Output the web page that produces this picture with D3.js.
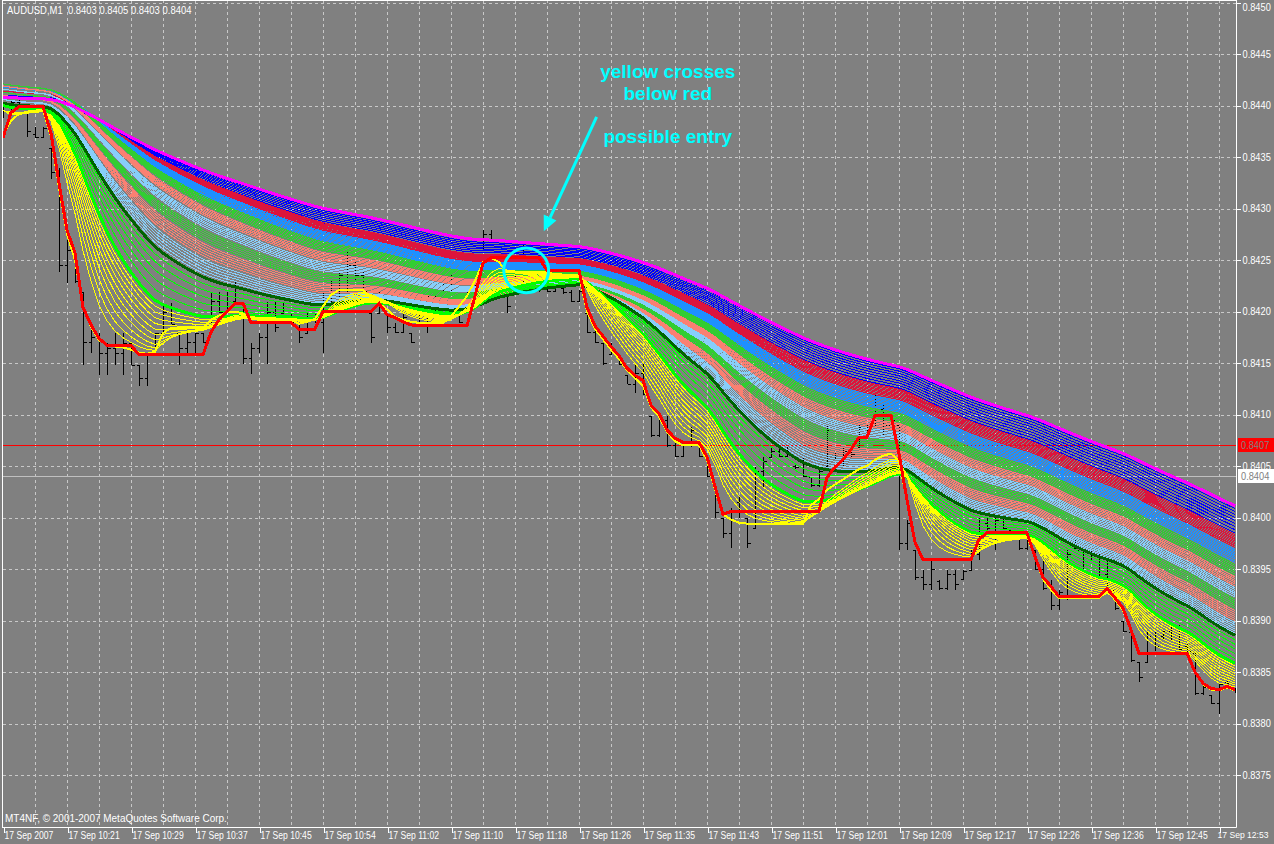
<!DOCTYPE html>
<html><head><meta charset="utf-8">
<script src="https://cdn.jsdelivr.net/npm/d3@7/dist/d3.min.js"></script>
<style>
html,body{margin:0;padding:0;background:#808080;}
svg{display:block;}
text{font-family:"Liberation Sans",Arial,sans-serif;}
</style></head><body>
<svg id="c" width="1274" height="844"></svg>
<script>
// ---------------- DATA ----------------
const symbolTitle = "AUDUSD,M1  0.8403 0.8405 0.8403 0.8404";
const copyright = "MT4NF, \u00A9 2001-2007 MetaQuotes Software Corp.";
const timeLabels = ["17 Sep 2007","17 Sep 10:21","17 Sep 10:29","17 Sep 10:37","17 Sep 10:45","17 Sep 10:54","17 Sep 11:02","17 Sep 11:10","17 Sep 11:18","17 Sep 11:26","17 Sep 11:35","17 Sep 11:43","17 Sep 11:51","17 Sep 12:01","17 Sep 12:09","17 Sep 12:17","17 Sep 12:26","17 Sep 12:36","17 Sep 12:45","17 Sep 12:53"];
const timeLabelBars = [0,8,16,24,32,40,48,56,64,72,80,88,96,104,112,120,128,136,144,152];
const priceTicks = [0.8450,0.8445,0.8440,0.8435,0.8430,0.8425,0.8420,0.8415,0.8410,0.8405,0.8400,0.8395,0.8390,0.8385,0.8380,0.8375];
const markerLevel = 0.8407;   // red horizontal line
const bidLevel = 0.8404;      // grey bid line

const openP = [
0.84390,0.84400,0.84403,0.84393,0.84372,0.84369,0.84359,0.84335,0.84245,0.84256,
0.84219,0.84170,0.84175,0.84160,0.84165,0.84160,0.84169,0.84148,0.84135,0.84158,
0.84179,0.84200,0.84179,0.84165,0.84170,0.84179,0.84190,0.84210,0.84200,0.84210,
0.84209,0.84155,0.84165,0.84175,0.84200,0.84199,0.84199,0.84189,0.84179,0.84195,
0.84190,0.84215,0.84225,0.84235,0.84245,0.84235,0.84199,0.84199,0.84199,0.84185,
0.84180,0.84179,0.84190,0.84205,0.84215,0.84219,0.84225,0.84199,0.84210,0.84219,
0.84260,0.84275,0.84250,0.84219,0.84230,0.84245,0.84235,0.84240,0.84225,0.84220,
0.84223,0.84219,0.84210,0.84199,0.84180,0.84169,0.84159,0.84155,0.84138,0.84130,
0.84140,0.84099,0.84080,0.84095,0.84070,0.84060,0.84070,0.84073,0.84059,0.84030,
0.84000,0.83985,0.84015,0.84000,0.83990,0.84045,0.84059,0.84065,0.84060,0.84050,
0.84055,0.84039,0.84032,0.84050,0.84060,0.84055,0.84065,0.84068,0.84088,0.84090,
0.84105,0.84090,0.84090,0.83975,0.83968,0.83942,0.83935,0.83938,0.83932,0.83945,
0.83940,0.83949,0.83965,0.83995,0.83990,0.83998,0.83988,0.83980,0.83970,0.83968,
0.83950,0.83932,0.83915,0.83925,0.83970,0.83968,0.83960,0.83965,0.83945,0.83930,
0.83900,0.83889,0.83860,0.83860,0.83885,0.83885,0.83890,0.83895,0.83875,0.83868,
0.83830,0.83828,0.83820,0.83840,0.83834];
const highP = [
0.84402,0.84405,0.84408,0.84393,0.84379,0.84379,0.84359,0.84339,0.84269,0.84256,
0.84219,0.84185,0.84179,0.84169,0.84179,0.84179,0.84169,0.84148,0.84158,0.84179,
0.84208,0.84208,0.84179,0.84179,0.84179,0.84179,0.84219,0.84219,0.84219,0.84230,
0.84209,0.84169,0.84179,0.84209,0.84209,0.84209,0.84199,0.84189,0.84199,0.84199,
0.84219,0.84230,0.84239,0.84258,0.84249,0.84239,0.84199,0.84219,0.84199,0.84189,
0.84199,0.84179,0.84209,0.84219,0.84219,0.84229,0.84239,0.84199,0.84219,0.84229,
0.84279,0.84279,0.84250,0.84219,0.84250,0.84268,0.84250,0.84240,0.84229,0.84238,
0.84223,0.84221,0.84221,0.84199,0.84187,0.84169,0.84169,0.84159,0.84138,0.84149,
0.84149,0.84099,0.84099,0.84099,0.84078,0.84073,0.84088,0.84073,0.84059,0.84030,
0.84000,0.84009,0.84020,0.84000,0.84049,0.84059,0.84068,0.84068,0.84068,0.84053,
0.84059,0.84039,0.84049,0.84090,0.84063,0.84068,0.84068,0.84090,0.84090,0.84119,
0.84109,0.84099,0.84090,0.83998,0.83968,0.83949,0.83959,0.83939,0.83949,0.83949,
0.83949,0.83968,0.84000,0.84000,0.84000,0.84000,0.83988,0.83980,0.83980,0.83968,
0.83959,0.83939,0.83930,0.83968,0.83978,0.83968,0.83968,0.83968,0.83959,0.83930,
0.83900,0.83889,0.83860,0.83889,0.83889,0.83891,0.83898,0.83896,0.83878,0.83868,
0.83839,0.83828,0.83839,0.83841,0.83834];
const lowP = [
0.84388,0.84392,0.84396,0.84369,0.84368,0.84369,0.84329,0.84238,0.84228,0.84228,
0.84148,0.84160,0.84138,0.84138,0.84148,0.84138,0.84148,0.84128,0.84128,0.84158,
0.84179,0.84188,0.84148,0.84158,0.84158,0.84169,0.84189,0.84199,0.84199,0.84209,
0.84149,0.84139,0.84160,0.84149,0.84180,0.84199,0.84189,0.84169,0.84179,0.84189,
0.84160,0.84209,0.84209,0.84219,0.84229,0.84219,0.84169,0.84199,0.84179,0.84179,
0.84179,0.84169,0.84189,0.84179,0.84199,0.84219,0.84219,0.84189,0.84208,0.84219,
0.84260,0.84269,0.84229,0.84199,0.84229,0.84229,0.84229,0.84219,0.84219,0.84219,
0.84217,0.84209,0.84209,0.84179,0.84169,0.84148,0.84159,0.84148,0.84130,0.84121,
0.84119,0.84078,0.84078,0.84068,0.84059,0.84059,0.84068,0.84059,0.84039,0.84000,
0.83980,0.83970,0.84000,0.83970,0.83990,0.84030,0.84059,0.84059,0.84059,0.84047,
0.84039,0.84030,0.84030,0.84049,0.84057,0.84049,0.84059,0.84068,0.84078,0.84090,
0.84078,0.84090,0.83968,0.83968,0.83939,0.83930,0.83930,0.83930,0.83930,0.83930,
0.83939,0.83949,0.83959,0.83988,0.83968,0.83988,0.83979,0.83968,0.83968,0.83949,
0.83930,0.83910,0.83910,0.83920,0.83968,0.83949,0.83959,0.83939,0.83930,0.83910,
0.83889,0.83860,0.83840,0.83860,0.83870,0.83881,0.83881,0.83870,0.83868,0.83828,
0.83828,0.83819,0.83809,0.83838,0.83830];
const closeP = [
0.84400,0.84403,0.84398,0.84375,0.84369,0.84378,0.84335,0.84245,0.84260,0.84230,
0.84170,0.84175,0.84160,0.84165,0.84160,0.84169,0.84148,0.84135,0.84158,0.84179,
0.84200,0.84188,0.84165,0.84170,0.84179,0.84170,0.84210,0.84200,0.84210,0.84225,
0.84155,0.84165,0.84175,0.84200,0.84185,0.84205,0.84190,0.84175,0.84195,0.84190,
0.84215,0.84225,0.84235,0.84245,0.84235,0.84220,0.84175,0.84210,0.84185,0.84180,
0.84195,0.84170,0.84205,0.84215,0.84205,0.84225,0.84230,0.84190,0.84215,0.84228,
0.84275,0.84270,0.84235,0.84205,0.84245,0.84235,0.84240,0.84225,0.84220,0.84230,
0.84219,0.84210,0.84220,0.84180,0.84170,0.84150,0.84165,0.84149,0.84130,0.84140,
0.84120,0.84080,0.84095,0.84070,0.84060,0.84070,0.84085,0.84060,0.84040,0.84005,
0.83985,0.84005,0.84005,0.83975,0.84045,0.84055,0.84065,0.84060,0.84065,0.84049,
0.84040,0.84032,0.84045,0.84085,0.84059,0.84065,0.84062,0.84088,0.84080,0.84115,
0.84090,0.84095,0.83975,0.83995,0.83942,0.83935,0.83950,0.83932,0.83945,0.83935,
0.83948,0.83965,0.83995,0.83990,0.83998,0.83990,0.83980,0.83970,0.83978,0.83950,
0.83932,0.83915,0.83928,0.83965,0.83968,0.83955,0.83965,0.83945,0.83932,0.83912,
0.83890,0.83862,0.83845,0.83885,0.83875,0.83890,0.83895,0.83872,0.83870,0.83830,
0.83835,0.83820,0.83838,0.83839,0.83831];
// thick red signal line
const redLine = [
0.84369,0.84393,0.84399,0.84399,0.84399,0.84399,0.84373,0.84325,0.84279,0.84257,
0.84204,0.84187,0.84174,0.84167,0.84167,0.84167,0.84167,0.84158,0.84158,0.84158,
0.84158,0.84158,0.84158,0.84158,0.84158,0.84158,0.84180,0.84192,0.84200,0.84208,
0.84208,0.84189,0.84189,0.84189,0.84189,0.84189,0.84189,0.84183,0.84183,0.84183,
0.84200,0.84200,0.84200,0.84200,0.84200,0.84200,0.84200,0.84208,0.84197,0.84194,
0.84190,0.84187,0.84186,0.84186,0.84186,0.84186,0.84186,0.84186,0.84186,0.84215,
0.84247,0.84252,0.84252,0.84252,0.84252,0.84252,0.84252,0.84252,0.84240,0.84240,
0.84240,0.84240,0.84240,0.84204,0.84186,0.84176,0.84166,0.84157,0.84145,0.84138,
0.84133,0.84109,0.84101,0.84085,0.84077,0.84073,0.84073,0.84073,0.84059,0.84030,
0.84003,0.84006,0.84006,0.84006,0.84006,0.84006,0.84006,0.84006,0.84006,0.84006,
0.84006,0.84006,0.84006,0.84039,0.84049,0.84056,0.84066,0.84078,0.84078,0.84099,
0.84099,0.84099,0.84062,0.84017,0.83976,0.83959,0.83959,0.83959,0.83959,0.83959,
0.83959,0.83959,0.83979,0.83985,0.83985,0.83985,0.83985,0.83985,0.83985,0.83962,
0.83942,0.83933,0.83923,0.83923,0.83923,0.83923,0.83923,0.83923,0.83931,0.83922,
0.83912,0.83891,0.83868,0.83868,0.83868,0.83868,0.83868,0.83868,0.83868,0.83850,
0.83839,0.83834,0.83833,0.83836,0.83833];
// thick yellow base line (input of the moving-average ribbon)
const yellowLine = [
0.84372,0.84385,0.84392,0.84394,0.84395,0.84396,0.84370,0.84320,0.84275,0.84250,
0.84205,0.84185,0.84172,0.84168,0.84166,0.84165,0.84163,0.84160,0.84159,0.84161,
0.84179,0.84184,0.84184,0.84184,0.84184,0.84184,0.84192,0.84196,0.84199,0.84200,
0.84198,0.84193,0.84192,0.84192,0.84192,0.84192,0.84192,0.84188,0.84190,0.84193,
0.84205,0.84216,0.84221,0.84221,0.84221,0.84221,0.84213,0.84208,0.84202,0.84195,
0.84192,0.84190,0.84189,0.84189,0.84189,0.84189,0.84195,0.84205,0.84215,0.84230,
0.84248,0.84252,0.84248,0.84238,0.84238,0.84238,0.84238,0.84238,0.84238,0.84235,
0.84235,0.84235,0.84235,0.84200,0.84183,0.84173,0.84163,0.84154,0.84143,0.84135,
0.84128,0.84107,0.84098,0.84083,0.84074,0.84070,0.84070,0.84070,0.84056,0.84027,
0.84003,0.83998,0.83995,0.83994,0.83994,0.83994,0.83994,0.83994,0.83994,0.83994,
0.83994,0.84012,0.84018,0.84027,0.84032,0.84037,0.84042,0.84047,0.84050,0.84056,
0.84060,0.84062,0.84055,0.84015,0.83974,0.83960,0.83960,0.83960,0.83960,0.83960,
0.83960,0.83960,0.83975,0.83980,0.83982,0.83982,0.83982,0.83982,0.83982,0.83961,
0.83940,0.83930,0.83922,0.83922,0.83922,0.83922,0.83922,0.83922,0.83930,0.83920,
0.83910,0.83890,0.83867,0.83867,0.83867,0.83867,0.83867,0.83867,0.83867,0.83850,
0.83838,0.83833,0.83832,0.83835,0.83832];

// moving-average ribbon: EMA periods per colour group, with the level each group starts at (left edge)
const groupNames   = ["blue","crimson","dodger","green2","salmon2","lightblue2","green1","salmon1","lightblue1","lime","yellow"];
const groupPeriods = [
  [82,84,86,88,90,92,94,96,98],
  [73,74,75,76,77,78,79,80,81],
  [64,65,66,67,68,69,70,71,72],
  [57,58,59,60,61,62,63],
  [51,52,53,54,55,56],
  [45,46,47,48,49,50],
  [39,40,41,42,43,44],
  [33,34,35,36,37,38],
  [27,28,29,30,31,32],
  [16,18,20,22,24],
  [4,5,6,7,8,9,10,11,12,13]];
const groupStart   = [0.84410,0.84414,0.84418,0.84421,0.84419,0.84416,0.84413,0.84410,0.84406,0.84402,0.84395];
const magentaPeriod = 100, magentaStart = 0.84408;
const darkGreenPeriod = 26, darkGreenStart = 0.84402;
const limeThickPeriod = 14, limeThickStart = 0.84400;

// annotation anchors (bar index, price)
const noteText1 = ["yellow crosses","below red"];
const noteText2 = "possible entry";
const noteAt = {bar:83.1, price1:0.84427, price2:0.84405, price3:0.843636};
const circleAt = {bar:65.4, price:0.84240, rBars:2.8};
const arrowFrom = {bar:74.2, price:0.84389};
const arrowTo = {bar:67.6, price:0.84278};

// ---------------- STYLE ----------------
const groupColor = {blue:"#0000FF",crimson:"#DC143C",dodger:"#1E90FF",green2:"#32CD32",salmon2:"#FA8072",
  lightblue2:"#87CEFA",green1:"#32CD32",salmon1:"#FA8072",lightblue1:"#87CEFA",lime:"#00FF00",yellow:"#FFFF00"};

// ---------------- DRAW ----------------
const W=1274,H=844;
const nBars = closeP.length;
const x = d3.scaleLinear().domain([0,nBars-1]).range([3,3+8*(nBars-1)]);
const y = d3.scaleLinear().domain([0.8370,0.8450]).range([826.5,2.5]);
const plotR = 1236, plotB = 827;

function squeeze(sel, f){
  sel.each(function(){ const w=this.getComputedTextLength();
    d3.select(this).attr("textLength",(w*f).toFixed(1)).attr("lengthAdjust","spacingAndGlyphs"); });
}

const svg = d3.select("#c");
svg.append("rect").attr("width",W).attr("height",H).attr("fill","#808080");
svg.append("clipPath").attr("id","clip").append("rect").attr("x",3).attr("y",1).attr("width",plotR-3).attr("height",plotB-1);
const g = svg.append("g").attr("clip-path","url(#clip)");

// grid
const gridC = "#C8C8C8";
g.append("g").selectAll("line").data(d3.range(4,nBars,4)).join("line")
  .attr("x1",d=>Math.round(x(d))+0.5).attr("x2",d=>Math.round(x(d))+0.5)
  .attr("y1",0).attr("y2",plotB).attr("stroke",gridC).attr("stroke-dasharray","3,3")
  .attr("shape-rendering","crispEdges");
g.append("g").selectAll("line").data(priceTicks).join("line")
  .attr("y1",d=>Math.round(y(d))+0.5).attr("y2",d=>Math.round(y(d))+0.5)
  .attr("x1",3).attr("x2",plotR).attr("stroke",gridC).attr("stroke-dasharray","3,3")
  .attr("shape-rendering","crispEdges");

// horizontal level lines
g.append("line").attr("x1",3).attr("x2",plotR).attr("y1",Math.round(y(markerLevel))+0.5).attr("y2",Math.round(y(markerLevel))+0.5)
  .attr("stroke","#FF0000").attr("shape-rendering","crispEdges");
g.append("line").attr("x1",3).attr("x2",plotR).attr("y1",Math.round(y(bidLevel))+0.5).attr("y2",Math.round(y(bidLevel))+0.5)
  .attr("stroke","#C0C0C0").attr("shape-rendering","crispEdges");

// bars
const bars = d3.range(nBars).map(i=>({i,o:openP[i],h:highP[i],l:lowP[i],c:closeP[i]}));
const bg = g.append("g").attr("stroke","#000").attr("shape-rendering","crispEdges");
bars.forEach(b=>{
  const xc = Math.round(x(b.i))+0.5;
  const yh = Math.round(y(b.h)), yl = Math.max(Math.round(y(b.l)), yh+1);
  bg.append("line").attr("x1",xc).attr("x2",xc).attr("y1",yh).attr("y2",yl);
  const yo = Math.round(y(b.o))+0.5, yc = Math.round(y(b.c))+0.5;
  bg.append("line").attr("x1",xc-3).attr("x2",xc).attr("y1",yo).attr("y2",yo);
  bg.append("line").attr("x1",xc).attr("x2",xc+3).attr("y1",yc).attr("y2",yc);
});

// EMA ribbon
function ema(src, period, start){
  const a = 2/(period+1); const out=[]; let v=start;
  for(let i=0;i<src.length;i++){ if(i>0) v = v + a*(src[i]-v); out.push(v); }
  return out;
}
const line = d3.line().x((d,i)=>x(i)).y(d=>y(d));
const rg = g.append("g").attr("fill","none").attr("shape-rendering","crispEdges");
function drawGroup(k){
  groupPeriods[k].slice().reverse().forEach(p=>{
    rg.append("path").attr("d",line(ema(yellowLine,p,groupStart[k])))
      .attr("stroke",groupColor[groupNames[k]]).attr("stroke-width",1);
  });
}
for(let k=0;k<9;k++) drawGroup(k);
rg.append("path").attr("d",line(ema(yellowLine,magentaPeriod,magentaStart))).attr("stroke","#FF00FF").attr("stroke-width",3);
drawGroup(9);
rg.append("path").attr("d",line(ema(yellowLine,darkGreenPeriod,darkGreenStart))).attr("stroke","#006400").attr("stroke-width",3);
rg.append("path").attr("d",line(ema(yellowLine,limeThickPeriod,limeThickStart))).attr("stroke","#00FF00").attr("stroke-width",3);
drawGroup(10);
rg.append("path").attr("d",line(yellowLine)).attr("stroke","#FFFF00").attr("stroke-width",2);
rg.append("path").attr("d",line(redLine)).attr("stroke","#FF0000").attr("stroke-width",3);

// frame
svg.append("line").attr("x1",2.5).attr("x2",2.5).attr("y1",0).attr("y2",plotB+0.5).attr("stroke","#fff");
svg.append("line").attr("x1",2).attr("x2",plotR+0.5).attr("y1",plotB+0.5).attr("y2",plotB+0.5).attr("stroke","#fff");
svg.append("line").attr("x1",plotR+0.5).attr("x2",plotR+0.5).attr("y1",0).attr("y2",plotB+0.5).attr("stroke","#fff");
svg.append("line").attr("x1",2).attr("x2",plotR+0.5).attr("y1",0.5).attr("y2",0.5).attr("stroke","#fff");

// price axis
const ya = svg.append("g").attr("transform",`translate(${plotR+0.5},0)`)
  .call(d3.axisRight(y).tickValues(priceTicks).tickFormat(d3.format(".4f")).tickSize(4).tickPadding(2));
ya.select(".domain").remove();
ya.selectAll(".tick line").attr("stroke","#fff").attr("shape-rendering","crispEdges");
ya.selectAll(".tick text").attr("fill","#fff").attr("font-size","10.5px").attr("font-family","Liberation Sans, Arial, sans-serif");
ya.selectAll(".tick").filter(d=>y(d)<8).select("text").attr("dy","0.75em");
squeeze(ya.selectAll(".tick text"), 0.88);

// level boxes on axis
function levelBox(level, bgc, fg){
  const yy = Math.round(y(level));
  svg.append("rect").attr("x",plotR+2).attr("y",yy-7).attr("width",37).attr("height",14).attr("fill",bgc);
  const t = svg.append("text").attr("x",plotR+5).attr("y",yy).attr("dy","0.35em").attr("fill",fg)
    .attr("font-size","10.5px").text(d3.format(".4f")(level));
  squeeze(t, 0.88);
}
levelBox(markerLevel,"#FF0000","#808080");
levelBox(bidLevel,"#FFFFFF","#808080");

// time axis
const xa = svg.append("g").attr("transform",`translate(0,${plotB+0.5})`)
  .call(d3.axisBottom(x).tickValues(timeLabelBars).tickFormat((d,i)=>timeLabels[i]).tickSize(5).tickPadding(3));
xa.select(".domain").remove();
xa.selectAll(".tick line").attr("stroke","#fff").attr("shape-rendering","crispEdges").attr("transform","translate(0.5,0)");
xa.selectAll(".tick text").attr("fill","#fff").attr("font-size","10.5px").attr("text-anchor","start").attr("dx","1")
  .attr("y",4).attr("font-family","Liberation Sans, Arial, sans-serif");
squeeze(xa.selectAll(".tick text"), 0.82);
// the last label must stay inside the window: smaller, with its end kept clear of the window edge
const lastLbl = xa.selectAll(".tick").filter(d=>d===timeLabelBars[timeLabelBars.length-1]).select("text");
lastLbl.attr("textLength",null).attr("lengthAdjust",null).attr("font-size","9.5px")
  .attr("text-anchor","end").attr("x", W-6-x(timeLabelBars[timeLabelBars.length-1])).attr("dx",0);
squeeze(lastLbl, 0.9);

// header / footer text
const tt = svg.append("text").attr("x",7).attr("y",14).attr("fill","#fff").attr("font-size","10.5px").attr("xml:space","preserve").text(symbolTitle);
squeeze(tt, 0.9);
const ct = svg.append("text").attr("x",5).attr("y",822).attr("fill","#fff").attr("font-size","10.5px").text(copyright);
squeeze(ct, 0.95);

// annotations
const cyan = "#00FFFF";
const ann = svg.append("g");
ann.append("text").attr("x",x(noteAt.bar)).attr("y",y(noteAt.price1)).attr("text-anchor","middle")
  .attr("fill",cyan).attr("font-size","19px").attr("font-weight","bold").text(noteText1[0]);
ann.append("text").attr("x",x(noteAt.bar)).attr("y",y(noteAt.price2)).attr("text-anchor","middle")
  .attr("fill",cyan).attr("font-size","19px").attr("font-weight","bold").text(noteText1[1]);
ann.append("text").attr("x",x(noteAt.bar)).attr("y",y(noteAt.price3)).attr("text-anchor","middle")
  .attr("fill",cyan).attr("font-size","19px").attr("font-weight","bold").text(noteText2);
ann.append("circle").attr("cx",x(circleAt.bar)).attr("cy",y(circleAt.price)).attr("r",8*circleAt.rBars)
  .attr("fill","none").attr("stroke",cyan).attr("stroke-width",3);
const ax1=x(arrowFrom.bar), ay1=y(arrowFrom.price), ax2=x(arrowTo.bar), ay2=y(arrowTo.price);
const ang = Math.atan2(ay2-ay1, ax2-ax1);
const hl=15, hw=7;
const bx = ax2 - hl*Math.cos(ang), by = ay2 - hl*Math.sin(ang);
ann.append("line").attr("x1",ax1).attr("y1",ay1).attr("x2",bx).attr("y2",by).attr("stroke",cyan).attr("stroke-width",3);
ann.append("path").attr("fill",cyan).attr("d",`M${ax2},${ay2}L${bx+hw*Math.sin(ang)},${by-hw*Math.cos(ang)}L${bx-hw*Math.sin(ang)},${by+hw*Math.cos(ang)}Z`);
</script>
</body></html>
